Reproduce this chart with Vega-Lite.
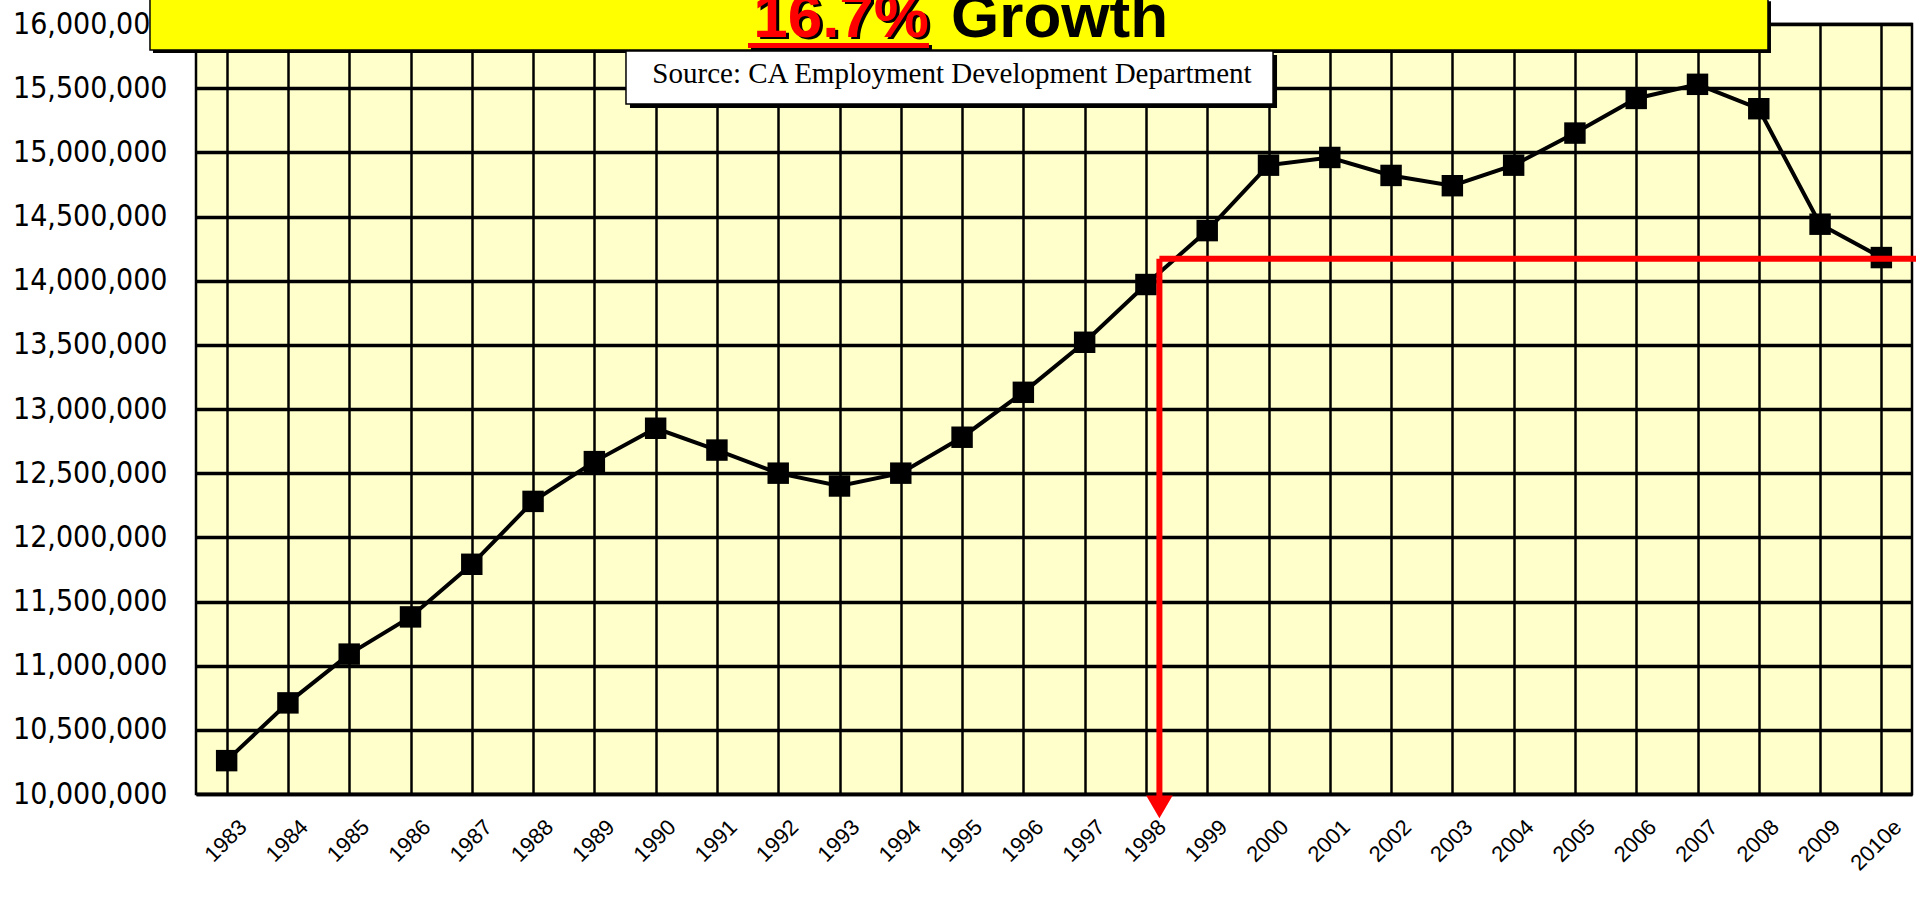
{
  "$schema": "https://vega.github.io/schema/vega-lite/v6.json",
  "width": 1716,
  "height": 770,
  "autosize": {"type": "none"},
  "padding": {"left": 196, "top": 24, "right": 4, "bottom": 109},
  "background": "white",
  "config": {
    "view": {"fill": "#FFFFCC", "stroke": "#000000", "strokeWidth": 2.5},
    "axis": {"grid": true, "gridColor": "#000000", "gridOpacity": 1, "ticks": false, "domain": false, "labelColor": "#000000", "labelOverlap": false, "labelLimit": 0}
  },
  "datasets": {
    "series": [
      {"year": 1983, "value": 10260000},
      {"year": 1984, "value": 10710000},
      {"year": 1985, "value": 11090000},
      {"year": 1986, "value": 11380000},
      {"year": 1987, "value": 11790000},
      {"year": 1988, "value": 12280000},
      {"year": 1989, "value": 12590000},
      {"year": 1990, "value": 12850000},
      {"year": 1991, "value": 12680000},
      {"year": 1992, "value": 12500000},
      {"year": 1993, "value": 12400000},
      {"year": 1994, "value": 12500000},
      {"year": 1995, "value": 12780000},
      {"year": 1996, "value": 13130000},
      {"year": 1997, "value": 13520000},
      {"year": 1998, "value": 13970000},
      {"year": 1999, "value": 14390000},
      {"year": 2000, "value": 14900000},
      {"year": 2001, "value": 14960000},
      {"year": 2002, "value": 14820000},
      {"year": 2003, "value": 14740000},
      {"year": 2004, "value": 14900000},
      {"year": 2005, "value": 15150000},
      {"year": 2006, "value": 15420000},
      {"year": 2007, "value": 15530000},
      {"year": 2008, "value": 15340000},
      {"year": 2009, "value": 14440000},
      {"year": 2010, "value": 14180000}
    ],
    "redlines": [
      {"year": 1998.22, "year2": 2010.6, "value": 14170000, "value2": 14170000},
      {"year": 1998.22, "year2": 1998.22, "value": 14170000, "value2": 9960000}
    ],
    "arrow": [{"year": 1998.22, "value": 9900000}],
    "titlebox": [{"year": 1981.749, "year2": 2008.15, "value": 16200000, "value2": 15797400}],
    "sourcebox": [{"year": 1989.516, "year2": 2000.074, "value": 15789600, "value2": 15376600}],
    "underline": [{"year": 1991.507, "year2": 1994.46, "value": 15852000, "value2": 15813000}],
    "pct": [{"year": 1994.46, "value": 15898700, "label": "16.7%"}],
    "growth": [{"year": 1994.82, "value": 15898700, "label": "Growth"}],
    "source": [{"year": 1994.835, "value": 15606500, "label": "Source: CA Employment Development Department"}]
  },
  "layer": [
    {
      "data": {"name": "series"},
      "mark": {"type": "line", "color": "#000000", "strokeWidth": 4},
      "encoding": {
        "x": {
          "field": "year", "type": "quantitative",
          "scale": {"domain": [1982.5, 2010.5], "nice": false, "zero": false},
          "axis": {
            "title": null,
            "values": [1983,1984,1985,1986,1987,1988,1989,1990,1991,1992,1993,1994,1995,1996,1997,1998,1999,2000,2001,2002,2003,2004,2005,2006,2007,2008,2009,2010],
            "labelExpr": "datum.value == 2010 ? '2010e' : '' + datum.value",
            "gridWidth": 2.5,
            "domain": true, "domainColor": "#000000", "domainWidth": 3.5,
            "labelFont": "Liberation Sans", "labelFontSize": 22,
            "labelAngle": -45, "labelAlign": "right", "labelBaseline": "top",
            "labelPadding": 22, "labelOffset": 9, "labelFlush": false, "labelBound": false
          }
        },
        "y": {
          "field": "value", "type": "quantitative",
          "scale": {"domain": [10000000, 16000000], "nice": false, "zero": false},
          "axis": {
            "title": null,
            "values": [10000000,10500000,11000000,11500000,12000000,12500000,13000000,13500000,14000000,14500000,15000000,15500000,16000000],
            "format": ",d",
            "gridWidth": 3.5,
            "labelFont": "DejaVu Sans Condensed",
            "labelFontSize": 30, "labelPadding": 29
          }
        }
      }
    },
    {
      "data": {"name": "series"},
      "mark": {"type": "point", "shape": "square", "filled": true, "color": "#000000", "size": 460, "opacity": 1},
      "encoding": {
        "x": {"field": "year", "type": "quantitative"},
        "y": {"field": "value", "type": "quantitative"}
      }
    },
    {
      "data": {"name": "redlines"},
      "mark": {"type": "rule", "color": "#FF0000", "strokeWidth": 6},
      "encoding": {
        "x": {"field": "year", "type": "quantitative"},
        "x2": {"field": "year2"},
        "y": {"field": "value", "type": "quantitative"},
        "y2": {"field": "value2"}
      }
    },
    {
      "data": {"name": "arrow"},
      "mark": {"type": "point", "shape": "triangle-down", "filled": true, "color": "#FF0000", "size": 700, "opacity": 1},
      "encoding": {
        "x": {"field": "year", "type": "quantitative"},
        "y": {"field": "value", "type": "quantitative"}
      }
    },
    {
      "data": {"name": "titlebox"},
      "mark": {"type": "rect", "color": "#000000", "xOffset": 3, "x2Offset": 3, "yOffset": 3, "y2Offset": 3},
      "encoding": {
        "x": {"field": "year", "type": "quantitative"},
        "x2": {"field": "year2"},
        "y": {"field": "value", "type": "quantitative"},
        "y2": {"field": "value2"}
      }
    },
    {
      "data": {"name": "titlebox"},
      "mark": {"type": "rect", "fill": "#FFFF00", "stroke": "#000000", "strokeWidth": 1.5},
      "encoding": {
        "x": {"field": "year", "type": "quantitative"},
        "x2": {"field": "year2"},
        "y": {"field": "value", "type": "quantitative"},
        "y2": {"field": "value2"}
      }
    },
    {
      "data": {"name": "sourcebox"},
      "mark": {"type": "rect", "color": "#000000", "xOffset": 4, "x2Offset": 4, "yOffset": 4, "y2Offset": 4},
      "encoding": {
        "x": {"field": "year", "type": "quantitative"},
        "x2": {"field": "year2"},
        "y": {"field": "value", "type": "quantitative"},
        "y2": {"field": "value2"}
      }
    },
    {
      "data": {"name": "sourcebox"},
      "mark": {"type": "rect", "fill": "#FFFFFF", "stroke": "#000000", "strokeWidth": 1.5},
      "encoding": {
        "x": {"field": "year", "type": "quantitative"},
        "x2": {"field": "year2"},
        "y": {"field": "value", "type": "quantitative"},
        "y2": {"field": "value2"}
      }
    },
    {
      "data": {"name": "underline"},
      "mark": {"type": "rect", "color": "#000000", "xOffset": 3, "x2Offset": 3, "yOffset": 2, "y2Offset": 2},
      "encoding": {
        "x": {"field": "year", "type": "quantitative"},
        "x2": {"field": "year2"},
        "y": {"field": "value", "type": "quantitative"},
        "y2": {"field": "value2"}
      }
    },
    {
      "data": {"name": "underline"},
      "mark": {"type": "rect", "color": "#FF0000"},
      "encoding": {
        "x": {"field": "year", "type": "quantitative"},
        "x2": {"field": "year2"},
        "y": {"field": "value", "type": "quantitative"},
        "y2": {"field": "value2"}
      }
    },
    {
      "data": {"name": "pct"},
      "mark": {"type": "text", "font": "Liberation Sans", "fontWeight": "bold", "fontSize": 62, "align": "right", "baseline": "alphabetic", "color": "#000000", "dx": 3, "dy": 2},
      "encoding": {
        "x": {"field": "year", "type": "quantitative"},
        "y": {"field": "value", "type": "quantitative"},
        "text": {"field": "label"}
      }
    },
    {
      "data": {"name": "pct"},
      "mark": {"type": "text", "font": "Liberation Sans", "fontWeight": "bold", "fontSize": 62, "align": "right", "baseline": "alphabetic", "color": "#FF0000"},
      "encoding": {
        "x": {"field": "year", "type": "quantitative"},
        "y": {"field": "value", "type": "quantitative"},
        "text": {"field": "label"}
      }
    },
    {
      "data": {"name": "growth"},
      "mark": {"type": "text", "font": "Liberation Sans", "fontWeight": "bold", "fontSize": 62, "align": "left", "baseline": "alphabetic", "color": "#000000"},
      "encoding": {
        "x": {"field": "year", "type": "quantitative"},
        "y": {"field": "value", "type": "quantitative"},
        "text": {"field": "label"}
      }
    },
    {
      "data": {"name": "source"},
      "mark": {"type": "text", "font": "Liberation Serif", "fontSize": 29, "align": "center", "baseline": "middle", "color": "#000000"},
      "encoding": {
        "x": {"field": "year", "type": "quantitative"},
        "y": {"field": "value", "type": "quantitative"},
        "text": {"field": "label"}
      }
    }
  ]
}
